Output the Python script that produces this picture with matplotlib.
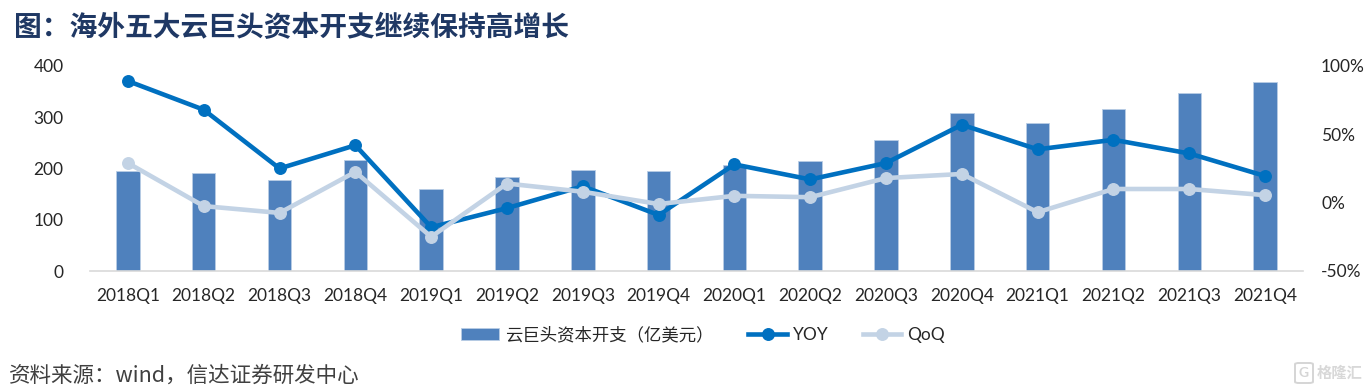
import matplotlib
matplotlib.use("Agg")
import matplotlib.pyplot as plt
from matplotlib.ticker import FuncFormatter
from matplotlib.patches import FancyBboxPatch

# Data
quarters = ["2018Q1", "2018Q2", "2018Q3", "2018Q4", "2019Q1", "2019Q2", "2019Q3", "2019Q4",
            "2020Q1", "2020Q2", "2020Q3", "2020Q4", "2021Q1", "2021Q2", "2021Q3", "2021Q4"]
capex = [196, 191, 177, 216, 160, 184, 197, 196, 206, 215, 256, 309, 288, 316, 348, 369]
yoy = [89, 68, 25, 42, -18, -4, 12, -9, 28, 17, 29, 57, 39, 46, 36, 19.5]
qoq = [29, -2.5, -7.5, 22.5, -25, 14, 8, -1, 5, 4, 18, 21, -7, 10, 10, 5.5]

BAR_COLOR = "#4F81BD"
YOY_COLOR = "#0070C0"
QOQ_COLOR = "#C3D3E5"
TITLE_COLOR = "#1F3864"
TEXT_COLOR = "#262626"
CJK = ["Noto Sans CJK SC", "DejaVu Sans"]

plt.rcParams["font.family"] = ["Lato", "Noto Sans CJK SC", "DejaVu Sans"]

W, H = 1369, 390
fig = plt.figure(figsize=(W / 100, H / 100), dpi=100)
ax = fig.add_axes([90 / W, 1 - 271 / H, (1303 - 90) / W, 205 / H])

bars = ax.bar(quarters, capex, width=0.31, color=BAR_COLOR, edgecolor="#B9CDE5", linewidth=0.6,
              label="云巨头资本开支（亿美元）", zorder=2)
ax.set_xlim(-0.5, 15.5)
ax.set_ylim(0, 400)
ax.set_yticks([0, 100, 200, 300, 400])
ax.tick_params(axis="both", length=0, labelsize=12.5, labelcolor=TEXT_COLOR)
ax.tick_params(axis="x", pad=12)
ax.tick_params(axis="y", pad=19)
for s in ["top", "left", "right"]:
    ax.spines[s].set_visible(False)
ax.spines["bottom"].set_color("#D9D9D9")
ax.spines["bottom"].set_linewidth(1.2)

ax2 = ax.twinx()
ax2.set_ylim(-50, 100)
ax2.set_yticks([-50, 0, 50, 100])
ax2.yaxis.set_major_formatter(FuncFormatter(lambda v, p: "%d%%" % v))
ax2.tick_params(axis="y", length=0, labelsize=12.5, labelcolor=TEXT_COLOR, pad=13)
for s in ["top", "left", "right", "bottom"]:
    ax2.spines[s].set_visible(False)

line_yoy, = ax2.plot(quarters, yoy, color=YOY_COLOR, linewidth=3.3, marker="o", markersize=8.3,
                     label="YOY", zorder=3)
line_qoq, = ax2.plot(quarters, qoq, color=QOQ_COLOR, linewidth=3.3, marker="o", markersize=8.3,
                     label="QoQ", zorder=4)

handles = [bars, line_yoy, line_qoq]
labels = [h.get_label() for h in handles]
leg = fig.legend(handles, labels, loc="center", bbox_to_anchor=(703 / W, 1 - 335 / H), ncol=3,
                 frameon=False, fontsize=12.5, handlelength=2.2, columnspacing=2.0,
                 handletextpad=0.35, labelcolor=TEXT_COLOR)

fig.text(14 / W, 1 - 28 / H, "图：海外五大云巨头资本开支继续保持高增长", fontsize=20, fontweight="bold",
         color=TITLE_COLOR, family=CJK, va="center", ha="left")
fig.text(9 / W, 1 - 376 / H, "资料来源：wind，信达证券研发中心", fontsize=15.5, color="#404040",
         family=CJK, style="italic", va="center", ha="left")

# watermark, bottom right
fig.patches.append(FancyBboxPatch((1295 / W, 1 - 383 / H), 18 / W, 20 / H, boxstyle="round,pad=0,rounding_size=0.003",
                                  transform=fig.transFigure, facecolor="none", edgecolor="#D5D5D5", linewidth=1.4))
fig.text(1304 / W, 1 - 373 / H, "G", fontsize=10, fontweight="bold", color="#D5D5D5", va="center", ha="center")
fig.text(1317 / W, 1 - 373 / H, "格隆汇", fontsize=11, fontweight="bold", color="#D8D8D8", family=CJK, va="center", ha="left")

fig.savefig("out.png", dpi=100)
